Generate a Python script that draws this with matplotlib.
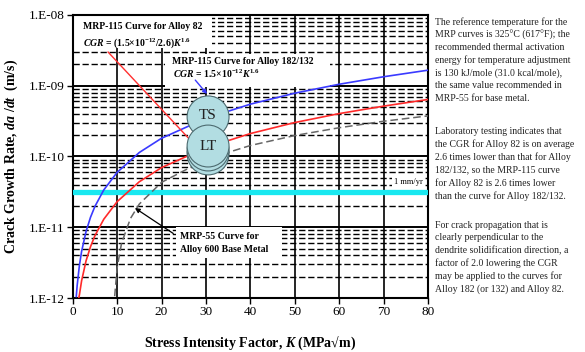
import matplotlib
matplotlib.use("Agg")
import matplotlib.pyplot as plt
from matplotlib.patches import Ellipse, Rectangle

plt.rcParams["font.family"] = ["Liberation Serif", "DejaVu Serif"]
plt.rcParams["mathtext.fontset"] = "custom"
plt.rcParams["mathtext.rm"] = "Liberation Serif:bold"
plt.rcParams["mathtext.it"] = "Liberation Serif:italic:bold"
plt.rcParams["mathtext.bf"] = "Liberation Serif:bold"

# MRP-115 curve, Alloy 182/132
k_182 = [0.8, 1, 1.5, 2, 3, 4, 5, 7, 10, 15, 20, 30, 40, 50, 60, 70, 80]
cgr_182 = [1.05e-12, 1.5e-12, 2.87e-12, 4.55e-12, 8.7e-12, 1.38e-11, 1.97e-11,
           3.37e-11, 5.97e-11, 1.14e-10, 1.81e-10, 3.46e-10, 5.49e-10,
           7.85e-10, 1.05e-9, 1.34e-9, 1.66e-9]

# MRP-115 curve, Alloy 82
k_82 = [1.35, 1.5, 2, 3, 4, 5, 7, 10, 15, 20, 30, 40, 50, 60, 70, 80]
cgr_82 = [1.0e-12, 1.1e-12, 1.75e-12, 3.35e-12, 5.3e-12, 7.6e-12, 1.3e-11,
          2.3e-11, 4.4e-11, 6.96e-11, 1.33e-10, 2.11e-10, 3.02e-10,
          4.04e-10, 5.15e-10, 6.4e-10]

# MRP-55 curve, Alloy 600 base metal
k_600 = [9.45, 10, 11, 13, 15, 20, 30, 40, 50, 60, 70, 80]
cgr_600 = [1.06e-12, 2.67e-12, 5.97e-12, 1.33e-11, 2.13e-11, 4.31e-11,
           9.13e-11, 1.43e-10, 1.98e-10, 2.55e-10, 3.15e-10, 3.75e-10]

one_mm_per_yr = 3.17e-11

x_ticks = [0, 10, 20, 30, 40, 50, 60, 70, 80]
y_ticks = [1e-12, 1e-11, 1e-10, 1e-9, 1e-8]
y_tick_labels = ["1.E-12", "1.E-11", "1.E-10", "1.E-09", "1.E-08"]

notes = [
    "The reference temperature for the\nMRP curves is 325\u00b0C (617\u00b0F); the\n"
    "recommended thermal activation\nenergy for temperature adjustment\n"
    "is 130 kJ/mole (31.0 kcal/mole),\nthe same value recommended in\n"
    "MRP-55 for base metal.",
    "Laboratory testing indicates that\nthe CGR for Alloy 82 is on average\n"
    "2.6 times lower than that for Alloy\n182/132, so the MRP-115 curve\n"
    "for Alloy 82 is 2.6 times lower\nthan the curve for Alloy 182/132.",
    "For crack propagation that is\nclearly perpendicular to the\n"
    "dendrite solidification direction, a\nfactor of 2.0 lowering the CGR\n"
    "may be applied to the curves for\nAlloy 182 (or 132) and Alloy 82.",
]
note_tops = [0.952, 0.639, 0.372]

fig = plt.figure(figsize=(5.85, 3.52), dpi=100)
ax = fig.add_axes([0.1243, 0.1534, 0.6073, 0.804])

ax.set_yscale("log")
ax.set_xlim(0, 80)
ax.set_ylim(1e-12, 1e-8)

# grid: solid decades and verticals, dashed minor horizontals
for yv in y_ticks[1:-1]:
    ax.axhline(yv, color="black", lw=1.4, zorder=1)
for dec in y_ticks[:-1]:
    for m in range(2, 10):
        ax.axhline(dec * m, color="black", lw=1.0, ls=(0, (4.5, 2)), zorder=1)
for xv in x_ticks[1:-1]:
    ax.axvline(xv, color="black", lw=1.2, zorder=1)

# white boxes behind the curve labels
ax.add_patch(Rectangle((0, 0.883), 0.392, 0.117, transform=ax.transAxes,
                       facecolor="white", edgecolor="none", zorder=2))
ax.add_patch(Rectangle((0.26, 0.746), 0.464, 0.116, transform=ax.transAxes,
                       facecolor="white", edgecolor="none", zorder=2))
ax.add_patch(Rectangle((0.29, 0.14), 0.30, 0.11, transform=ax.transAxes,
                       facecolor="white", edgecolor="none", zorder=2))

ax.axhline(one_mm_per_yr, color="#19e8f0", lw=3.8, zorder=3)
ax.plot(k_182, cgr_182, color="#3a3aff", lw=1.2, zorder=4)
ax.plot(k_82, cgr_82, color="#ff2a2a", lw=1.2, zorder=4)
ax.plot(k_600, cgr_600, color="#666666", lw=1.1, ls=(0, (5, 2.5)), zorder=4)

# leader lines
ax.plot([0.0996, 0.331], [0.869, 0.558], transform=ax.transAxes,
        color="#ff3030", lw=1.0, zorder=4)
ax.annotate("", xy=(0.378, 0.721), xytext=(0.345, 0.770),
            xycoords="axes fraction", textcoords="axes fraction",
            arrowprops=dict(arrowstyle="-|>", color="#3a3aff", lw=1.0,
                            mutation_scale=6, shrinkA=0, shrinkB=0), zorder=4)
ax.annotate("", xy=(0.175, 0.318), xytext=(0.283, 0.228),
            xycoords="axes fraction", textcoords="axes fraction",
            arrowprops=dict(arrowstyle="-|>", color="black", lw=0.9,
                            mutation_scale=7, shrinkA=0, shrinkB=0), zorder=4)

# TS / LT discs
cw, ch = 0.118, 0.148
for cy in [0.509, 0.523]:
    ax.add_patch(Ellipse((0.381, cy), cw, ch, transform=ax.transAxes,
                         facecolor="#b2dde2", edgecolor="#4d6b70", lw=0.8, zorder=5))
ax.add_patch(Ellipse((0.381, 0.640), cw, ch, transform=ax.transAxes,
                     facecolor="#b2dde2", edgecolor="#4d6b70", lw=0.8, zorder=5))
ax.add_patch(Ellipse((0.381, 0.537), cw, ch, transform=ax.transAxes,
                     facecolor="#b2dde2", edgecolor="#4d6b70", lw=0.8, zorder=5))
ax.text(0.381, 0.645, "TS", transform=ax.transAxes, ha="center", va="center",
        fontsize=11, color="#222222", zorder=6)
ax.text(0.381, 0.537, "LT", transform=ax.transAxes, ha="center", va="center",
        fontsize=11, color="#222222", zorder=6)

# curve labels
lab = dict(transform=ax.transAxes, fontsize=7, fontweight="bold",
           va="center", ha="left", zorder=6)
ax.text(0.029, 0.958, "MRP-115 Curve for Alloy 82", **lab)
ax.text(0.029, 0.901, "$CGR$ = (1.5\u00d710$^{-12}$/2.6)$K^{1.6}$", **lab)
ax.text(0.280, 0.834, "MRP-115 Curve for Alloy 182/132", **lab)
ax.text(0.283, 0.792, "$CGR$ = 1.5\u00d710$^{-12}$$K^{1.6}$", **lab)
ax.text(0.302, 0.216, "MRP-55 Curve for", **lab)
ax.text(0.302, 0.170, "Alloy 600 Base Metal", **lab)
ax.text(0.944, 0.410, "1 mm/yr", transform=ax.transAxes, fontsize=6,
        ha="center", va="center", zorder=6,
        bbox=dict(facecolor="white", edgecolor="none", pad=1))

ax.set_xticks(x_ticks)
ax.set_yticks(y_ticks)
ax.set_yticklabels(y_tick_labels)
ax.minorticks_off()
ax.tick_params(labelsize=9.5, length=4, width=1, direction="out", pad=2)
for s in ax.spines.values():
    s.set_linewidth(1.5)

ax.set_xlabel("Stress Intensity Factor, $K$ (MPa\u221am)", fontsize=10,
              fontweight="bold")
ax.xaxis.set_label_coords(0.5, -0.13)
ax.set_ylabel("Crack Growth Rate, $da$ /$dt$  (m/s)", fontsize=10,
              fontweight="bold")
ax.yaxis.set_label_coords(-0.148, 0.5)

for txt, top in zip(notes, note_tops):
    fig.text(0.744, top, txt, fontsize=7, va="top", ha="left",
             linespacing=1.45, color="#222222")

fig.savefig("out.png", dpi=100)
